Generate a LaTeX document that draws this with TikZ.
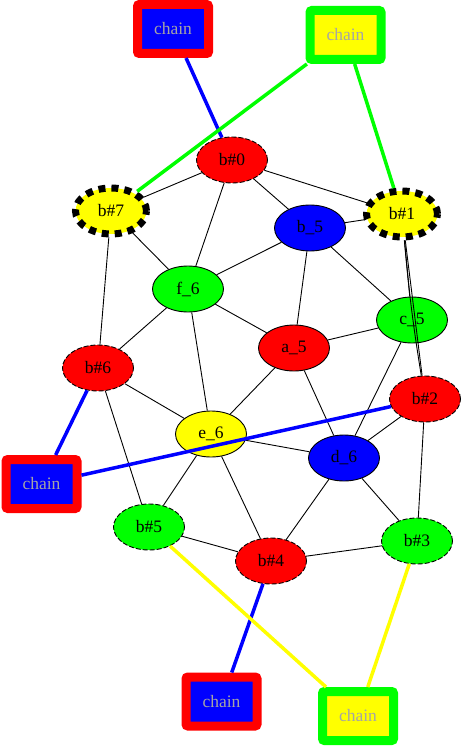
\documentclass[tikz,border=0pt]{standalone}
\usepackage{fontspec}
\setmainfont{Liberation Serif}
\usetikzlibrary{shapes.geometric}
\definecolor{chaingray}{RGB}{165,165,165}
\definecolor{gvred}{RGB}{255,0,0}
\definecolor{gvblue}{RGB}{0,0,255}
\definecolor{gvgreen}{RGB}{0,255,0}
\definecolor{gvyellow}{RGB}{255,255,0}

\begin{document}
\begin{tikzpicture}[x=1pt, y=-1pt,
  ell/.style={ellipse, draw, line width=0.9pt, minimum width=71pt, minimum height=46pt,
              inner sep=0pt, font=\fontsize{17.5}{19}\selectfont},
  hashed/.style={ell, dash pattern=on 5pt off 2pt},
  bighashed/.style={ell, line width=7pt, dash pattern=on 7pt off 6pt},
  chainbox/.style={draw, line width=9pt, rounded corners=2pt, minimum width=71pt,
              minimum height=49pt, inner sep=0pt, text=chaingray, font=\fontsize{17.5}{19}\selectfont},
  edge/.style={line width=0.9pt},
  link/.style={line width=3.5pt}]
\useasboundingbox (0,0) rectangle (467,746);
% chain boxes
\node[chainbox, draw=gvred, fill=gvblue] (chtop) at (173,29) {chain};
\node[chainbox, draw=gvgreen, fill=gvyellow] (chgtop) at (345.5,35) {chain};
\node[chainbox, draw=gvred, fill=gvblue] (chleft) at (41.5,484) {chain};
\node[chainbox, draw=gvred, fill=gvblue] (chbot) at (221.5,701.5) {chain};
\node[chainbox, draw=gvgreen, fill=gvyellow] (chgbot) at (358,716) {chain};
% ring nodes
\node[hashed, fill=gvred] (bh0) at (232,160) {b\#0};
\node[bighashed, fill=gvyellow] (bh7) at (111,211) {b\#7};
\node[bighashed, fill=gvyellow] (bh1) at (402,214) {b\#1};
\node[hashed, fill=gvred] (bh6) at (98,368) {b\#6};
\node[hashed, fill=gvred] (bh2) at (425,399) {b\#2};
\node[hashed, fill=gvgreen] (bh5) at (149,527) {b\#5};
\node[hashed, fill=gvgreen] (bh3) at (417,541) {b\#3};
\node[hashed, fill=gvred] (bh4) at (271,561) {b\#4};
% inner nodes
\node[ell, fill=gvblue] (b5) at (310,228) {b\_5};
\node[ell, fill=gvgreen] (f6) at (188,289) {f\_6};
\node[ell, fill=gvgreen] (c5) at (412,320) {c\_5};
\node[ell, fill=gvred] (a5) at (294,348) {a\_5};
\node[ell, fill=gvyellow] (e6) at (211,434) {e\_6};
\node[ell, fill=gvblue] (d6) at (344,458) {d\_6};
% edges
\foreach \a/\b in {bh0/bh7, bh0/bh1, bh0/b5, bh0/f6, bh7/f6, bh7/bh6, b5/bh1, b5/f6,
    b5/a5, b5/c5, bh1/c5, bh1/bh2, f6/a5, f6/bh6, f6/e6, c5/a5, c5/d6, a5/e6, a5/d6,
    bh6/e6, bh6/bh5, bh2/d6, e6/d6, e6/bh5, e6/bh4, d6/bh4, d6/bh3, bh2/bh3,
    bh5/bh4, bh4/bh3}
  \draw[edge] (\a) -- (\b);
\draw[edge] (bh1) to[bend right=2] (bh2);
% chain links
\draw[link, gvblue] (chtop) -- (bh0);
\draw[link, gvgreen] (chgtop) -- (bh7); \draw[link, gvgreen] (chgtop) -- (bh1);
\draw[link, gvblue] (chleft) -- (bh6); \draw[link, gvblue] (chleft) -- (bh2);
\draw[link, gvblue] (chbot) -- (bh4);
\draw[link, gvyellow] (chgbot) -- (bh5); \draw[link, gvyellow] (chgbot) -- (bh3);
\end{tikzpicture}
\end{document}
